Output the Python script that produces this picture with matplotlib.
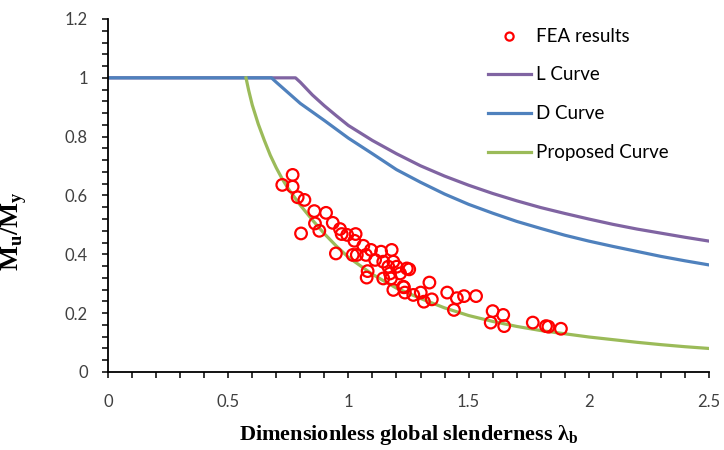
import matplotlib
matplotlib.use("Agg")
import matplotlib.pyplot as plt
from matplotlib.ticker import MultipleLocator, FuncFormatter

plt.rcParams["mathtext.fontset"] = "custom"
plt.rcParams["mathtext.rm"] = "Liberation Serif"
plt.rcParams["mathtext.bf"] = "Liberation Serif:bold"

# FEA results (slenderness, Mu/My)
fea_lam = [0.768, 0.725, 0.768, 0.789, 0.817, 0.858, 0.907, 0.935, 0.861, 0.879,
           0.803, 0.965, 0.972, 0.995, 1.030, 1.025, 1.062, 0.948, 1.018, 1.035,
           1.073, 1.094, 1.136, 1.180, 1.111, 1.080, 1.076, 1.145, 1.166, 1.187,
           1.201, 1.243, 1.173, 1.215, 1.177, 1.145, 1.228, 1.187, 1.253, 1.231,
           1.235, 1.270, 1.301, 1.314, 1.347, 1.337, 1.411, 1.451, 1.481, 1.531,
           1.439, 1.600, 1.644, 1.592, 1.648, 1.767, 1.822, 1.832, 1.884]
fea_mu = [0.670, 0.636, 0.630, 0.594, 0.585, 0.547, 0.541, 0.507, 0.505, 0.480,
          0.471, 0.486, 0.469, 0.466, 0.469, 0.446, 0.429, 0.403, 0.398, 0.398,
          0.398, 0.415, 0.409, 0.415, 0.381, 0.343, 0.321, 0.375, 0.358, 0.375,
          0.358, 0.352, 0.335, 0.335, 0.318, 0.318, 0.290, 0.279, 0.349, 0.288,
          0.270, 0.262, 0.270, 0.239, 0.247, 0.304, 0.270, 0.251, 0.258, 0.258,
          0.211, 0.207, 0.194, 0.168, 0.156, 0.168, 0.156, 0.154, 0.147]

# L curve
l_lam = [0.0, 0.78, 0.8, 0.85, 0.9, 0.95, 1.0, 1.1, 1.2, 1.3, 1.4, 1.5, 1.6,
         1.7, 1.8, 1.9, 2.0, 2.1, 2.2, 2.3, 2.4, 2.5]
l_mu = [1.0, 1.0, 0.985, 0.942, 0.905, 0.871, 0.838, 0.787, 0.742, 0.701,
        0.666, 0.635, 0.607, 0.582, 0.559, 0.539, 0.520, 0.502, 0.486, 0.472,
        0.458, 0.445]

# D curve
d_lam = [0.0, 0.68, 0.7, 0.8, 0.9, 1.0, 1.1, 1.2, 1.3, 1.4, 1.5, 1.6, 1.7,
         1.8, 1.9, 2.0, 2.1, 2.2, 2.3, 2.4, 2.5]
d_mu = [1.0, 1.0, 0.985, 0.913, 0.855, 0.795, 0.742, 0.688, 0.645, 0.605,
        0.570, 0.540, 0.512, 0.488, 0.465, 0.445, 0.427, 0.410, 0.393, 0.378,
        0.364]

# Proposed curve
p_lam = [0.574, 0.585, 0.6, 0.625, 0.65, 0.675, 0.7, 0.725, 0.75, 0.8, 0.85,
         0.9, 0.95, 1.0, 1.1, 1.2, 1.3, 1.4, 1.5, 1.6, 1.7, 1.8, 1.9, 2.0,
         2.1, 2.2, 2.3, 2.4, 2.5]
p_mu = [1.0, 0.958, 0.908, 0.843, 0.788, 0.737, 0.694, 0.656, 0.623, 0.567,
        0.517, 0.470, 0.428, 0.390, 0.332, 0.285, 0.250, 0.218, 0.192, 0.172,
        0.155, 0.141, 0.130, 0.119, 0.110, 0.101, 0.093, 0.086, 0.080]

fig = plt.figure(figsize=(7.24, 4.5), dpi=100)
ax = fig.add_axes([108 / 724, 1 - 372 / 450, 601 / 724, 353 / 450])

ax.scatter(fea_lam, fea_mu, s=70, facecolors="none", edgecolors="#ff0000",
           linewidths=1.6, label="FEA results", zorder=3)
ax.plot(l_lam, l_mu, color="#8064a2", lw=2.3, label="L Curve")
ax.plot(d_lam, d_mu, color="#4f81bd", lw=2.3, label="D Curve")
ax.plot(p_lam, p_mu, color="#9bbb59", lw=2.3, label="Proposed Curve")

ax.set_xlim(0, 2.5)
ax.set_ylim(0, 1.2)
ax.xaxis.set_major_locator(MultipleLocator(0.5))
ax.xaxis.set_minor_locator(MultipleLocator(0.1))
ax.yaxis.set_major_locator(MultipleLocator(0.2))
ax.yaxis.set_minor_locator(MultipleLocator(0.04))
ax.xaxis.set_major_formatter(FuncFormatter(lambda v, p: f"{v:g}"))
ax.yaxis.set_major_formatter(FuncFormatter(lambda v, p: f"{v:g}"))

for side in ("top", "right"):
    ax.spines[side].set_visible(False)
for side in ("left", "bottom"):
    ax.spines[side].set_linewidth(1.3)
ax.tick_params(which="both", direction="out", length=4.5, width=1.1,
               colors="black", labelsize=12, labelcolor="#404040")
ax.tick_params(axis="x", pad=11)
ax.tick_params(axis="y", pad=10)
for lbl in ax.get_xticklabels() + ax.get_yticklabels():
    lbl.set_family("Lato")

ax.set_xlabel("Dimensionless global slenderness λ$_\\mathbf{b}$",
              family="Liberation Serif", fontweight="bold", fontsize=16,
              labelpad=10)
ax.set_ylabel("M$_\\mathbf{u}$/M$_\\mathbf{y}$", family="Liberation Serif",
              fontweight="bold", fontsize=19)
ax.yaxis.set_label_coords(-0.131, 0.40)

leg = ax.legend(loc="upper left", bbox_to_anchor=(488 / 724, 422.5 / 450),
                bbox_transform=fig.transFigure, frameon=False,
                prop={"family": "Lato", "size": 13.5}, handlelength=2.3,
                handletextpad=0.27, labelspacing=1.17, borderpad=0,
                borderaxespad=0, markerscale=0.7)

fig.savefig("out.png", dpi=100)
